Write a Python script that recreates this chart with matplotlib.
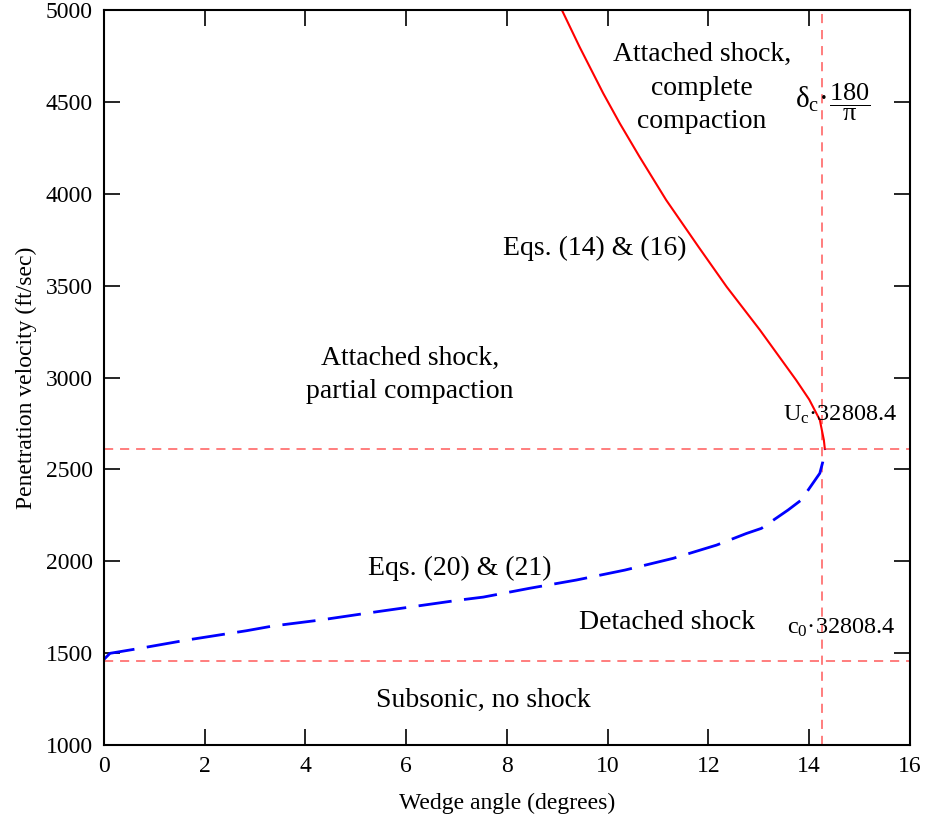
import matplotlib
matplotlib.use("Agg")
import matplotlib.pyplot as plt

# ---- data ----
red_x = [9.09, 9.44, 9.91, 10.24, 10.63, 11.16, 11.80, 12.36, 13.02, 13.74, 14.00, 14.21, 14.29, 14.31]
red_y = [5000, 4800, 4547, 4383, 4202, 3966, 3712, 3494, 3259, 2986, 2880, 2769, 2660, 2611]

blue_x = [0.00, 0.12, 0.71, 1.64, 2.83, 3.36, 4.29, 5.41, 7.06, 7.53, 8.45, 9.38,
          10.34, 11.30, 12.16, 12.75, 13.05, 13.58, 13.84, 14.21, 14.27, 14.31]
blue_y = [1466, 1499, 1526, 1571, 1622, 1648, 1680, 1725, 1789, 1805, 1853, 1898,
          1952, 2016, 2088, 2151, 2179, 2279, 2333, 2479, 2542, 2611]

c0_ft = 1459        # c0*32808.4
Uc_ft = 2611        # Uc*32808.4
delta_c_deg = 14.26 # delta_c*180/pi

x_ticks = [0, 2, 4, 6, 8, 10, 12, 14, 16]
y_ticks = [1000, 1500, 2000, 2500, 3000, 3500, 4000, 4500, 5000]

plt.rcParams['font.family'] = ['Liberation Serif', 'DejaVu Serif']
plt.rcParams['mathtext.fontset'] = 'custom'
plt.rcParams['mathtext.rm'] = 'Liberation Serif'
plt.rcParams['mathtext.it'] = 'Liberation Serif:italic'
plt.rcParams['mathtext.bf'] = 'Liberation Serif:bold'

fig = plt.figure(figsize=(9.34, 8.16), dpi=100)
ax = fig.add_axes([0.1113, 0.0870, 0.8630, 0.9007])

ref_kw = dict(color='#ff5a5a', lw=1.1, dashes=(6, 4.5))
ax.axhline(c0_ft, **ref_kw)
ax.axhline(Uc_ft, **ref_kw)
ax.axvline(delta_c_deg, **ref_kw)

ax.plot(red_x, red_y, color='red', lw=1.5)
ax.plot(blue_x, blue_y, color='blue', lw=2.0, dashes=(12, 4.5))

ax.set_xlim(0, 16)
ax.set_ylim(1000, 5000)
ax.set_xticks(x_ticks)
ax.set_yticks(y_ticks)
ax.tick_params(direction='in', length=11.5, width=1.2, top=True, right=True,
               labelsize=17, pad=8)
for s in ax.spines.values():
    s.set_linewidth(1.5)

ax.set_xlabel('Wedge angle (degrees)', fontsize=17, labelpad=11)
ax.set_ylabel('Penetration velocity (ft/sec)', fontsize=17, labelpad=6)

fs = 20
ax.text(11.87, 4575, 'Attached shock,\ncomplete\ncompaction', fontsize=fs,
        ha='center', va='center', linespacing=1.45)
ax.text(14.36, 4470, r'$\mathrm{δ_c}$·', fontsize=21, ha='right', va='baseline')
ax.text(14.80, 4500, r'$\mathrm{\dfrac{180}{π}}$', fontsize=19,
        ha='center', va='center')
ax.text(9.74, 3705, 'Eqs. (14) & (16)', fontsize=fs, ha='center', va='center')
ax.text(6.07, 3014, 'Attached shock,\npartial compaction', fontsize=fs,
        ha='center', va='center', linespacing=1.4)
ax.text(13.47, 2795, r'$\mathrm{U_c}$·32808.4', fontsize=17.5,
        ha='left', va='center')
ax.text(7.06, 1963, 'Eqs. (20) & (21)', fontsize=fs, ha='center', va='center')
ax.text(11.17, 1669, 'Detached shock', fontsize=fs, ha='center', va='center')
ax.text(13.55, 1636, r'$\mathrm{c_0}$·32808.4', fontsize=17.5,
        ha='left', va='center')
ax.text(7.54, 1245, 'Subsonic, no shock', fontsize=fs, ha='center', va='center')

fig.savefig('out.png', dpi=100)
